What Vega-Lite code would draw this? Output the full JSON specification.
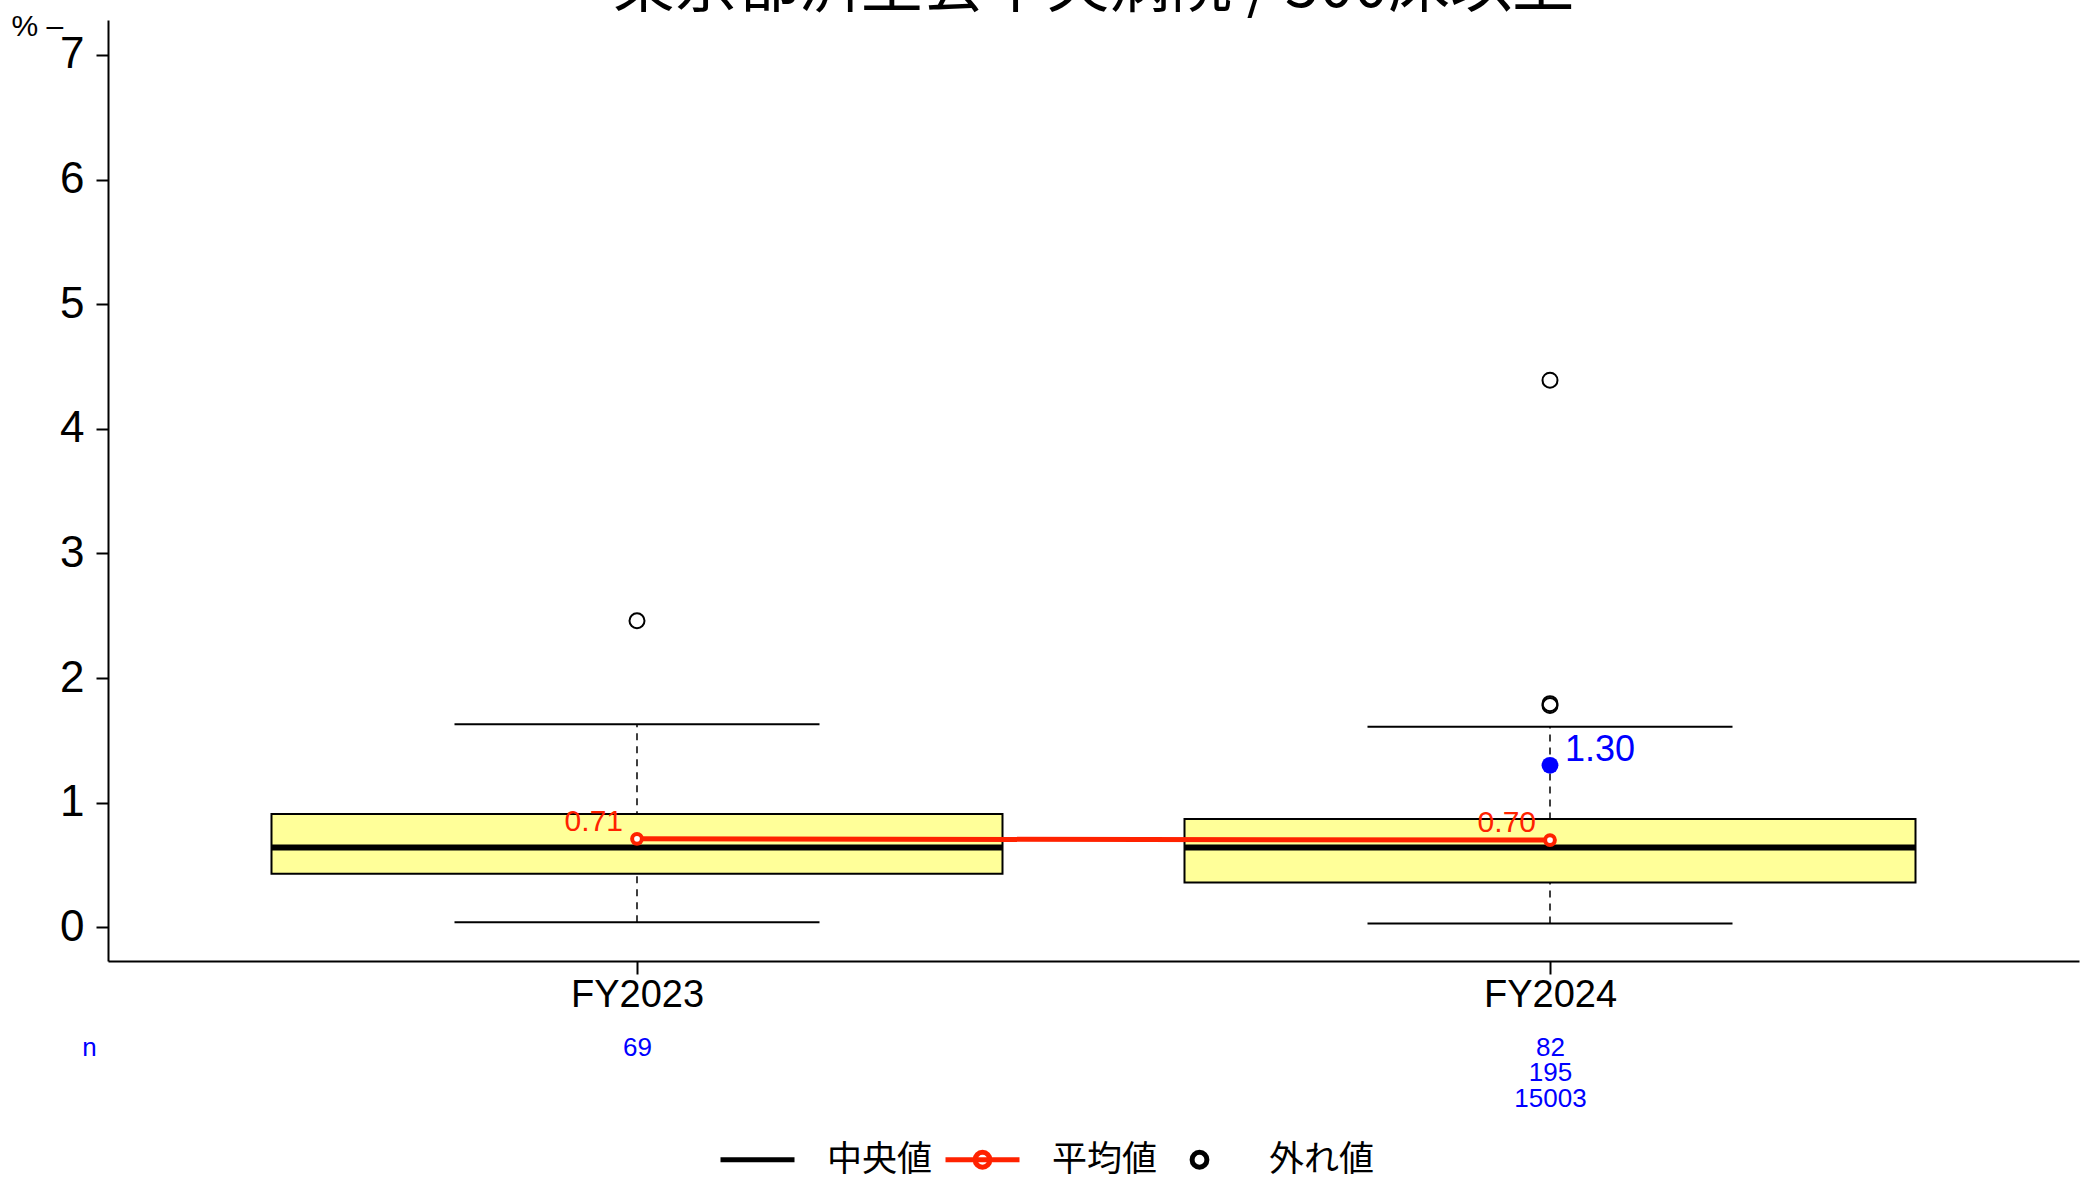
{
  "$schema": "https://vega.github.io/schema/vega-lite/v6.json",
  "autosize": {"type": "none"},
  "padding": {"left": 108, "top": 20, "right": 7, "bottom": 219},
  "width": 1971,
  "height": 941,
  "background": "white",
  "title": {"text": "東京都済生会中央病院 / 500床以上", "font": "Noto Sans CJK JP", "fontSize": 62, "fontWeight": "normal", "color": "black", "anchor": "middle", "frame": "group", "baseline": "alphabetic", "offset": -58},
  "datasets": {
    "boxes": [
      {"year": "FY2023", "lower": 0.04, "q1": 0.43, "median": 0.64, "q3": 0.91, "upper": 1.63, "mean": 0.71},
      {"year": "FY2024", "lower": 0.03, "q1": 0.36, "median": 0.64, "q3": 0.87, "upper": 1.61, "mean": 0.70}
    ],
    "outliers": [
      {"year": "FY2023", "value": 2.46, "kind": "外れ値"},
      {"year": "FY2024", "value": 1.78, "kind": "外れ値"},
      {"year": "FY2024", "value": 1.795, "kind": "外れ値"},
      {"year": "FY2024", "value": 4.39, "kind": "外れ値"}
    ],
    "hospital": [
      {"year": "FY2024", "value": 1.30}
    ]
  },
  "layer": [
    {
      "data": {"name": "boxes"},
      "encoding": {
        "x": {"field": "year", "type": "nominal", "sort": null,
          "scale": {"type": "point", "domain": ["FY2023", "FY2024"], "padding": 0.5794},
          "axis": {"title": null, "labelAngle": 0, "labelFontSize": 38, "labelFont": "Liberation Sans", "labelColor": "black", "labelPadding": 2, "tickSize": 13, "tickWidth": 2, "tickColor": "black", "domainColor": "black", "domainWidth": 2, "grid": false}
        }
      },
      "layer": [
        {
          "mark": {"type": "rule", "strokeDash": [7, 6], "strokeWidth": 1.5, "color": "black"},
          "encoding": {
            "y": {"field": "lower", "type": "quantitative", "scale": {"domain": [-0.27, 7.28], "nice": false, "zero": false},
              "axis": {"values": [0, 1, 2, 3, 4, 5, 6, 7], "format": "d", "grid": false, "labelFontSize": 44, "labelFont": "Liberation Sans", "labelColor": "black", "labelPadding": 12, "tickSize": 12, "tickWidth": 2, "tickColor": "black", "domainColor": "black", "domainWidth": 2,
                "title": "%   –", "titleAngle": 0, "titleX": -97, "titleY": 6, "titleAlign": "left", "titleBaseline": "middle", "titleFontSize": 30, "titleFontWeight": "normal", "titleFont": "Liberation Sans", "titleColor": "black"}},
            "y2": {"field": "upper"}
          }
        },
        {
          "mark": {"type": "bar", "size": 731, "fill": "#FFFF99", "stroke": "black", "strokeWidth": 2},
          "encoding": {
            "y": {"field": "q1", "type": "quantitative", "scale": {"domain": [-0.27, 7.28], "nice": false, "zero": false}},
            "y2": {"field": "q3"}
          }
        },
        {
          "mark": {"type": "tick", "size": 731, "thickness": 6, "color": "black", "opacity": 1},
          "encoding": {
            "y": {"field": "median", "type": "quantitative", "scale": {"domain": [-0.27, 7.28], "nice": false, "zero": false}}
          }
        },
        {
          "mark": {"type": "tick", "size": 365, "thickness": 2, "color": "black", "opacity": 1},
          "encoding": {
            "y": {"field": "lower", "type": "quantitative", "scale": {"domain": [-0.27, 7.28], "nice": false, "zero": false}}
          }
        },
        {
          "mark": {"type": "line", "color": "#FF2200", "strokeWidth": 5, "strokeCap": "round"},
          "encoding": {
            "y": {"field": "mean", "type": "quantitative", "scale": {"domain": [-0.27, 7.28], "nice": false, "zero": false}}
          }
        },
        {
          "mark": {"type": "point", "filled": true, "fill": "white", "stroke": "#FF2200", "strokeWidth": 4, "size": 95, "opacity": 1},
          "encoding": {
            "y": {"field": "mean", "type": "quantitative", "scale": {"domain": [-0.27, 7.28], "nice": false, "zero": false}}
          }
        },
        {
          "mark": {"type": "text", "color": "#FF2200", "fontSize": 30, "font": "Liberation Sans", "align": "right", "baseline": "alphabetic", "dx": -14, "dy": -8, "letterSpacing": 1},
          "encoding": {
            "y": {"field": "mean", "type": "quantitative", "scale": {"domain": [-0.27, 7.28], "nice": false, "zero": false}},
            "text": {"field": "mean", "type": "quantitative", "format": ".2f"}
          }
        },
        {
          "data": {"name": "outliers"},
          "mark": {"type": "point", "filled": false, "strokeWidth": 2, "size": 5625, "opacity": 1},
          "encoding": {
            "y": {"field": "value", "type": "quantitative", "scale": {"domain": [-0.27, 7.28], "nice": false, "zero": false}},
            "color": {"field": "kind", "type": "nominal",
              "scale": {"domain": ["中央値", "平均値", "外れ値"], "range": ["black", "#FF2200", "black"]},
              "legend": {"orient": "none", "legendX": 610, "legendY": 1100, "direction": "horizontal", "title": null, "padding": 0,
                "symbolSize": 5476, "symbolStrokeWidth": 5, "labelFontSize": 35, "labelFont": "Noto Sans CJK JP", "labelOffset": 30, "columnPadding": 2, "labelLimit": 300,
                "encode": {"labels": {"update": {"fill": {"signal": "datum.label == '平均値' ? '#FF2200' : 'black'"}}}}}
            },
            "shape": {"field": "kind", "type": "nominal",
              "scale": {"domain": ["中央値", "平均値", "外れ値"], "range": ["M-1,0L1,0", "M-1,0L1,0M0.2,0A0.2,0.2 0 1 1 -0.2,0A0.2,0.2 0 1 1 0.2,0Z", "M0.2,0A0.2,0.2 0 1 1 -0.2,0A0.2,0.2 0 1 1 0.2,0Z"]}
            }
          }
        },
        {
          "data": {"name": "hospital"},
          "mark": {"type": "point", "filled": true, "color": "#0000FF", "size": 284, "opacity": 1},
          "encoding": {
            "y": {"field": "value", "type": "quantitative", "scale": {"domain": [-0.27, 7.28], "nice": false, "zero": false}}
          }
        },
        {
          "data": {"name": "hospital"},
          "mark": {"type": "text", "color": "#0000FF", "fontSize": 36, "font": "Liberation Sans", "align": "left", "baseline": "alphabetic", "dx": 15, "dy": -4, "letterSpacing": 3},
          "encoding": {
            "y": {"field": "value", "type": "quantitative", "scale": {"domain": [-0.27, 7.28], "nice": false, "zero": false}},
            "text": {"field": "value", "type": "quantitative", "format": ".2f"}
          }
        }
      ]
    },
    {
      "data": {"name": "boxes"},
      "mark": {"type": "tick", "size": 365, "thickness": 2, "color": "black", "opacity": 1},
      "encoding": {
        "x": {"field": "year", "type": "nominal", "sort": null,
          "scale": {"type": "point", "domain": ["FY2023", "FY2024"], "padding": 0.5794},
          "axis": {"orient": "bottom", "offset": 73, "domain": false, "ticks": false, "grid": false, "labelAngle": 0, "labelFontSize": 26, "labelFont": "Liberation Sans", "labelColor": "#0000FF", "labelPadding": 0, "labelBaseline": "top", "labelLineHeight": 25.5,
            "labelExpr": "datum.value == 'FY2023' ? '69' : ['82', '195', '15003']",
            "title": "n", "titleAngle": 0, "titleX": -19, "titleY": 13, "titleAlign": "center", "titleBaseline": "middle", "titleFontSize": 26, "titleFontWeight": "normal", "titleFont": "Liberation Sans", "titleColor": "#0000FF"}
        },
        "y": {"field": "upper", "type": "quantitative", "scale": {"domain": [-0.27, 7.28], "nice": false, "zero": false}}
      }
    }
  ],
  "resolve": {"axis": {"x": "independent"}},
  "config": {"view": {"stroke": null}, "font": "Liberation Sans"}
}
